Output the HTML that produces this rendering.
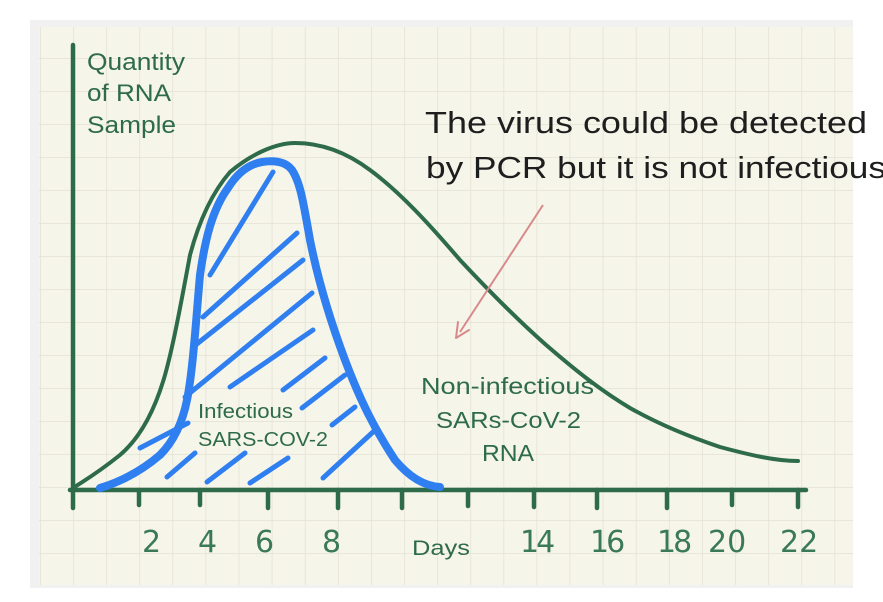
<!DOCTYPE html>
<html><head><style>body{margin:0;background:#fff}svg{display:block}</style></head><body>
<svg width="883" height="602" viewBox="0 0 883 602" xmlns="http://www.w3.org/2000/svg">
<defs>
<pattern id="g" x="40" y="25" width="33.1" height="33" patternUnits="userSpaceOnUse">
<path d="M0 0V33M0 0H33.1" stroke="#e4e1d3" stroke-width="1.5" fill="none"/>
</pattern>
</defs>
<rect x="30" y="20" width="823" height="568" fill="#f1f1f1"/>
<rect x="39" y="27" width="814" height="558" fill="#f6f5ea"/>
<rect x="39" y="27" width="814" height="558" fill="url(#g)"/>
<g stroke="#2e6b4a" stroke-width="4.5" stroke-linecap="round" fill="none">
<path d="M73 45V490"/>
<path d="M70 490H806"/>
<path d="M73 490V508M139 490V505M200 490V505M268 490V508M338 490V508M402 490V508M468 490V506M534 490V507M597 490V508M667 490V508M732 490V505M798 490V507"/>
</g>
<path d="M73 488 C85 480 95 475 120 455 C140 438 155 410 165 375 C172 350 178 320 190 255 C198 225 210 195 230 172 C250 155 275 143 295 143 C325 143 350 155 370 170 C400 192 430 225 460 260 C490 292 520 322 545 344 C575 370 600 390 630 408 C660 425 690 437 720 447 C750 455 775 461 798 461" stroke="#2e6b4a" stroke-width="4" fill="none" stroke-linecap="round"/>
<path d="M100 488 C120 482 140 472 160 455 C175 440 183 420 187 400 C193 370 196 320 200 275 C205 240 212 210 228 188 C238 172 250 164 262 162 C275 160 286 162 292 170 C300 182 303 200 310 240 C318 280 330 320 345 360 C360 400 375 430 395 460 C410 478 425 486 440 487" stroke="#2f7ff0" stroke-width="8" fill="none" stroke-linecap="round" stroke-linejoin="round"/>
<g stroke="#2f7ff0" stroke-width="5" stroke-linecap="round" fill="none">
<path d="M210 275L273 172M203 317L297 233M193 347L303 260M185 397L312 293M230 387L313 330M283 390L325 358M302 408L345 375M332 425L355 407M323 478L373 432M140 448L188 423M167 477L195 453M207 482L245 453M250 483L288 458"/>
</g>
<path d="M543 205L460 332" stroke="#d88a8a" stroke-width="2" fill="none"/>
<path d="M456 338L458 322M456 338L469 330" stroke="#d88a8a" stroke-width="2" fill="none" stroke-linecap="round"/>
<g font-family="Liberation Sans, sans-serif" fill="#2e6b4a">
<text x="87" y="70" font-size="24" textLength="98" lengthAdjust="spacingAndGlyphs">Quantity</text>
<text x="87" y="101" font-size="24" textLength="84" lengthAdjust="spacingAndGlyphs">of RNA</text>
<text x="87" y="133" font-size="24" textLength="89" lengthAdjust="spacingAndGlyphs">Sample</text>
<text x="198" y="418" font-size="20" textLength="95" lengthAdjust="spacingAndGlyphs">Infectious</text>
<text x="198" y="446" font-size="20" textLength="130" lengthAdjust="spacingAndGlyphs">SARS-COV-2</text>
<text x="421" y="394" font-size="23" textLength="173" lengthAdjust="spacingAndGlyphs">Non-infectious</text>
<text x="436" y="428" font-size="23" textLength="145" lengthAdjust="spacingAndGlyphs">SARs-CoV-2</text>
<text x="482" y="461" font-size="23" textLength="52" lengthAdjust="spacingAndGlyphs">RNA</text>
<text x="412" y="555" font-size="21" textLength="58" lengthAdjust="spacingAndGlyphs">Days</text>
<g font-size="30" style="font-family:'DejaVu Sans',sans-serif" fill="#3a7a58">
<text x="142" y="552">2</text>
<text x="198" y="552">4</text>
<text x="255" y="552">6</text>
<text x="322" y="552">8</text>
<text x="520" y="552" letter-spacing="-3">14</text>
<text x="590" y="552" letter-spacing="-3">16</text>
<text x="657" y="552" letter-spacing="-3">18</text>
<text x="708" y="552">20</text>
<text x="780" y="552">22</text>
</g>
</g>
<g font-family="Liberation Sans, sans-serif" fill="#1e1e1e" font-size="31">
<text x="425" y="133" textLength="442" lengthAdjust="spacingAndGlyphs">The virus could be detected</text>
<text x="426" y="178" textLength="460" lengthAdjust="spacingAndGlyphs">by PCR but it is not infectious</text>
</g>
</svg>
</body></html>
